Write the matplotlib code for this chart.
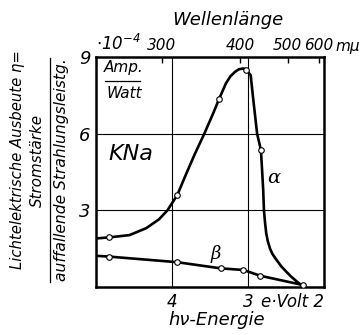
import numpy as np
import matplotlib.pyplot as plt
from matplotlib.lines import Line2D

plt.rcParams['font.family'] = ['DejaVu Sans']
plt.rcParams['font.style'] = 'italic'
plt.rcParams['mathtext.fontset'] = 'custom'
plt.rcParams['mathtext.rm'] = 'DejaVu Sans:italic'
plt.rcParams['mathtext.it'] = 'DejaVu Sans:italic'

# curve alpha (photon energy in eV, yield in 1e-4 Amp/Watt)
alpha_ev = [5.0, 4.83, 4.56, 4.34, 4.17, 4.06, 3.93, 3.81, 3.70, 3.57, 3.45, 3.38,
            3.29, 3.23, 3.17, 3.12, 3.06, 3.02, 2.99, 2.965, 2.93, 2.88, 2.83, 2.815,
            2.80, 2.79, 2.775, 2.76, 2.74, 2.71, 2.68, 2.63, 2.56, 2.49, 2.43, 2.36,
            2.31, 2.28]
alpha_y = [1.90, 1.94, 2.03, 2.30, 2.65, 3.00, 3.60, 4.45, 5.20, 6.03, 6.85, 7.36,
           7.97, 8.25, 8.42, 8.52, 8.55, 8.51, 8.38, 8.29, 7.32, 6.00, 5.36, 4.60,
           3.80, 3.00, 2.50, 2.10, 1.80, 1.50, 1.30, 1.08, 0.80, 0.58, 0.40, 0.22,
           0.10, 0.07]
alpha_pts_ev = [4.83, 3.93, 3.38, 3.02, 2.83]
alpha_pts_y = [1.94, 3.60, 7.36, 8.51, 5.36]

# curve beta
beta_ev = [5.0, 4.83, 3.93, 3.36, 3.06, 2.84, 2.28]
beta_y = [1.22, 1.19, 0.97, 0.73, 0.665, 0.44, 0.08]
beta_pts_ev = [4.83, 3.93, 3.36, 3.06, 2.84, 2.28]
beta_pts_y = [1.19, 0.97, 0.73, 0.665, 0.44, 0.08]

ev_ticks = [4, 3, 2]
ev_labels = ['4', '3', 'e·Volt 2']
y_ticks = [3, 6, 9]
grid_ev = [4, 3]
grid_y = [3, 6]
wl_ticks = [300, 400, 500, 600]
wl_labels = ['300', '400', '500', '600']

fig = plt.figure(figsize=(3.64, 3.35), dpi=100)
ax = fig.add_axes([0.2637, 0.1433, 0.6264, 0.6866])
ax.set_xlim(5, 2)
ax.set_ylim(0, 9)

for g in grid_ev:
    ax.axvline(g, color='black', lw=0.8, zorder=1)
for g in grid_y:
    ax.axhline(g, color='black', lw=0.8, zorder=1)

ax.plot(alpha_ev, alpha_y, color='black', lw=1.9, zorder=3)
ax.plot(beta_ev, beta_y, color='black', lw=1.9, zorder=3)
mk = dict(ls='none', marker='o', ms=4, mfc='white', mec='black', mew=0.8, zorder=4)
ax.plot(alpha_pts_ev, alpha_pts_y, **mk)
ax.plot(beta_pts_ev, beta_pts_y, **mk)

for s in ax.spines.values():
    s.set_linewidth(1.8)

ax.set_xticks(ev_ticks)
ax.set_xticklabels(ev_labels, fontsize=12)
ax.get_xticklabels()[-1].set_horizontalalignment('right')
ax.set_yticks(y_ticks)
ax.set_yticklabels([str(v) for v in y_ticks], fontsize=13)
ax.tick_params(length=0, pad=4)

# wavelength scale on top
sec = ax.secondary_xaxis('top', functions=(lambda e: 1240 / e, lambda w: 1240 / w))
sec.set_xticks(wl_ticks)
sec.set_xticklabels(wl_labels, fontsize=11)
sec.tick_params(direction='in', length=4, width=1, pad=3)
sec.spines['top'].set_visible(False)

ax.text(1.05, 1.015, 'mμ', transform=ax.transAxes, fontsize=11, ha='left', va='bottom')
ax.text(0.0, 1.015, r'$\cdot10^{-4}$', transform=ax.transAxes, fontsize=12, ha='left', va='bottom')

# labels inside the plot
ax.text(4.63, 8.30, 'Amp.', fontsize=11, ha='center', va='bottom')
ax.plot([4.88, 4.42], [8.06, 8.06], color='black', lw=0.9)
ax.text(4.63, 7.85, 'Watt', fontsize=11, ha='center', va='top')
ax.text(4.54, 5.2, 'KNa', fontsize=16, ha='center', va='center')
ax.text(2.66, 4.25, 'α', fontsize=14, family='DejaVu Serif', ha='center', va='center')
ax.text(3.42, 1.30, 'β', fontsize=13, family='DejaVu Serif', ha='center', va='center')

fig.text(0.626, 0.940, 'Wellenlänge', fontsize=13, ha='center', va='center')
fig.text(0.596, 0.045, 'hν-Energie', fontsize=13, ha='center', va='center')

# y label as a fraction
fig.text(0.049, 0.525, 'Lichtelektrische Ausbeute η=', fontsize=10.7, rotation=90,
         ha='center', va='center')
fig.text(0.104, 0.522, 'Stromstärke', fontsize=10.9, rotation=90, ha='center', va='center')
fig.add_artist(Line2D([0.137, 0.137], [0.158, 0.827], color='black', lw=0.9,
                      transform=fig.transFigure))
fig.text(0.170, 0.493, 'auffallende Strahlungsleistg.', fontsize=11.2, rotation=90,
         ha='center', va='center')

fig.savefig('out.png', dpi=100)
